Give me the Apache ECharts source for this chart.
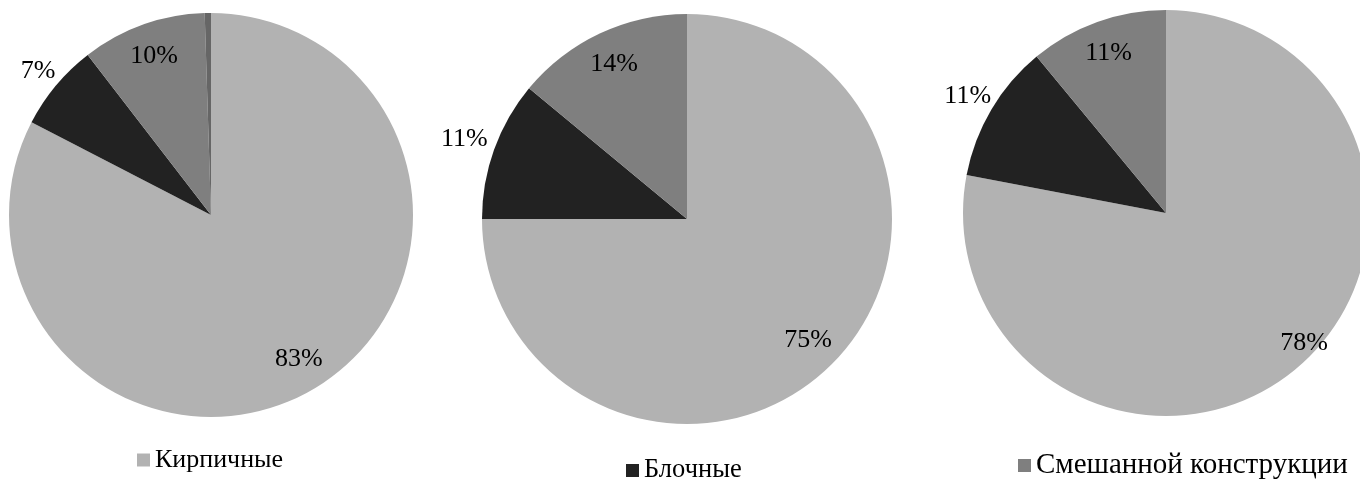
<!DOCTYPE html>
<html>
<head>
<meta charset="utf-8">
<script src="https://cdn.jsdelivr.net/npm/echarts@6/dist/echarts.min.js"></script>
<style>
html,body{margin:0;padding:0;background:#fff;}
#chart{width:1360px;height:483px;}
</style>
</head>
<body>
<div id="chart"></div>
<script>
// ---- data ----
const categories = ['Кирпичные', 'Блочные', 'Смешанной конструкции'];
const otherName = 'Прочие';
const pie1Values = [83, 7, 10, 0.5];
const pie2Values = [75, 11, 14];
const pie3Values = [78, 11, 11];

// ---- styles ----
const colors = { 'Кирпичные': '#b2b2b2', 'Блочные': '#222222', 'Смешанной конструкции': '#7f7f7f', 'Прочие': '#666666' };
const outsideNames = ['Блочные'];
const FONT = '"Liberation Serif", "Times New Roman", serif';
const FS = 26;
const pies = [
  { values: pie1Values, center: [211, 215], r: 202, out: 1.10, shift: {} },
  { values: pie2Values, center: [687, 219], r: 205, out: 1.14, shift: {} },
  { values: pie3Values, center: [1166, 213], r: 203, out: 1.12, shift: { 'Кирпичные': [0, 0, 0, 60] } }
];

function namesFor(vals) {
  return vals.map((v, i) => i < categories.length ? categories[i] : otherName);
}

const series = [];
pies.forEach(p => {
  const names = namesFor(p.values);
  series.push({
    type: 'pie', center: p.center, radius: [0, p.r], startAngle: 90, clockwise: true,
    silent: true, animation: false,
    label: { show: false }, labelLine: { show: false },
    itemStyle: { borderWidth: 0 },
    data: names.map((n, i) => ({ name: n, value: p.values[i], itemStyle: { color: colors[n] } }))
  });
});
pies.forEach(p => {
  const names = namesFor(p.values);
  series.push({
    type: 'pie', center: p.center, radius: [0.64 * p.r, p.r], startAngle: 90, clockwise: true,
    silent: true, animation: false, labelLine: { show: false },
    itemStyle: { color: 'rgba(0,0,0,0)', borderWidth: 0 },
    data: names.map((n, i) => ({
      name: n, value: p.values[i],
      itemStyle: { color: 'rgba(0,0,0,0)' },
      label: {
        show: n !== otherName && outsideNames.indexOf(n) < 0,
        position: 'inside', formatter: p.values[i] + '%',
        color: '#000', fontFamily: FONT, fontSize: FS,
        padding: p.shift[n] || 0
      }
    }))
  });
  const mid = p.out * p.r;
  series.push({
    type: 'pie', center: p.center, radius: [mid - 0.08 * p.r, mid + 0.08 * p.r], startAngle: 90, clockwise: true,
    silent: true, animation: false, labelLine: { show: false },
    itemStyle: { color: 'rgba(0,0,0,0)', borderWidth: 0 },
    data: names.map((n, i) => ({
      name: n, value: p.values[i],
      itemStyle: { color: 'rgba(0,0,0,0)' },
      label: {
        show: outsideNames.indexOf(n) >= 0,
        position: 'inside', formatter: p.values[i] + '%',
        color: '#000', fontFamily: FONT, fontSize: FS
      }
    }))
  });
});

const legendPos = [
  { left: 137, top: 447, fs: 26 },
  { left: 626, top: 457, fs: 26.5 },
  { left: 1018, top: 451, fs: 29 }
];
const legend = categories.map((c, i) => ({
  data: [{ name: c, icon: 'rect', itemStyle: { color: colors[c] } }],
  left: legendPos[i].left, top: legendPos[i].top, padding: 0,
  itemWidth: 13, itemHeight: 13, orient: 'horizontal',
  selectedMode: false,
  textStyle: { color: '#000', fontFamily: FONT, fontSize: legendPos[i].fs, lineHeight: Math.round(legendPos[i].fs) }
}));

const chart = echarts.init(document.getElementById('chart'), null, { renderer: 'canvas' });
chart.setOption({
  backgroundColor: '#ffffff',
  animation: false,
  legend: legend,
  series: series
});
</script>
</body>
</html>
